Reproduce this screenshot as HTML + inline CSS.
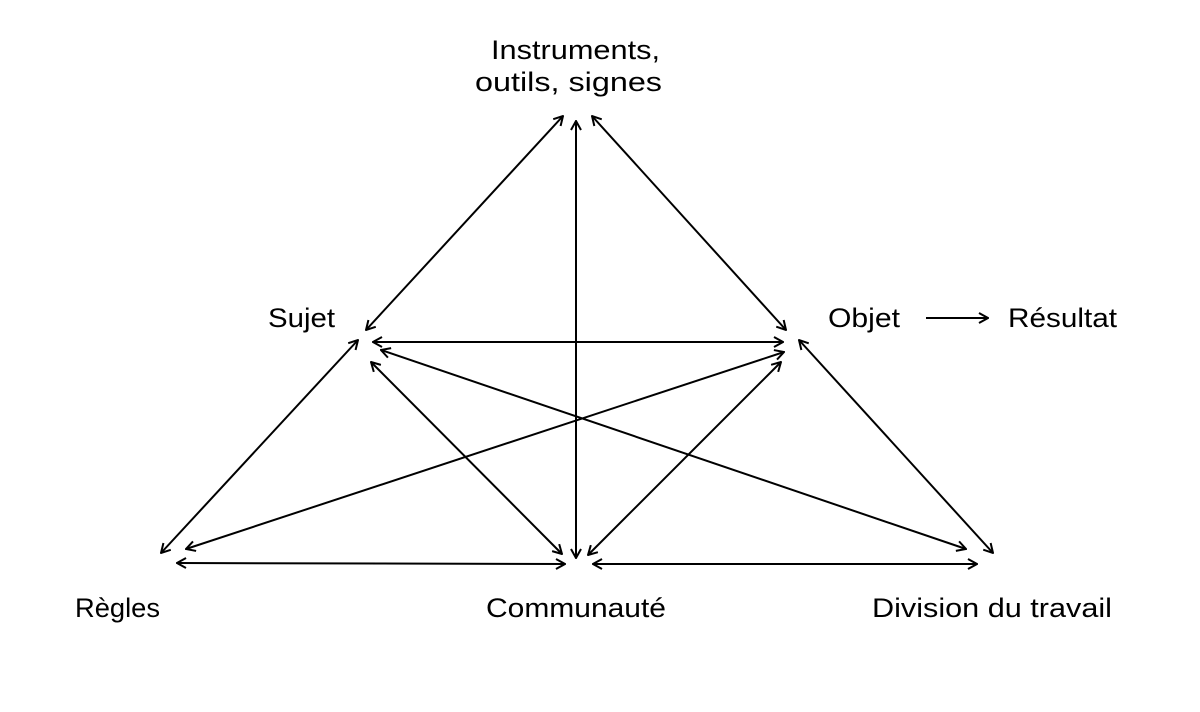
<!DOCTYPE html>
<html><head><meta charset="utf-8"><style>
html,body{margin:0;padding:0;background:#fff;}
svg{display:block;}
text{font-family:"Liberation Sans",sans-serif;font-size:27px;fill:#000;}
</style></head><body>
<svg width="1200" height="712" viewBox="0 0 1200 712" xmlns="http://www.w3.org/2000/svg">
<defs>
<marker id="a" viewBox="0 0 12 12" refX="11" refY="6" markerWidth="12" markerHeight="12" markerUnits="userSpaceOnUse" orient="auto-start-reverse">
<polyline points="2,1 11,6 2,11" fill="none" stroke="#000" stroke-width="2"/>
</marker>
</defs>
<g stroke="#000" stroke-width="2" fill="none" marker-start="url(#a)" marker-end="url(#a)">
<line x1="366" y1="330" x2="563" y2="116"/>
<line x1="576" y1="558" x2="576" y2="121"/>
<line x1="786" y1="330" x2="592" y2="116"/>
<line x1="373" y1="342" x2="783" y2="342"/>
<line x1="358" y1="340" x2="161" y2="553"/>
<line x1="371" y1="362" x2="562" y2="554"/>
<line x1="381" y1="350" x2="966" y2="549"/>
<line x1="784" y1="352" x2="186" y2="549"/>
<line x1="781" y1="362" x2="588" y2="555"/>
<line x1="799" y1="340" x2="993" y2="553"/>
<line x1="177" y1="563" x2="565" y2="564"/>
<line x1="593" y1="564" x2="977" y2="564"/>
</g>
<line x1="926" y1="318" x2="988" y2="318" stroke="#000" stroke-width="2" marker-end="url(#a)"/>
<text x="491" y="59" textLength="169" lengthAdjust="spacingAndGlyphs">Instruments,</text>
<text x="475" y="91" textLength="187" lengthAdjust="spacingAndGlyphs">outils, signes</text>
<text x="268" y="327" textLength="67" lengthAdjust="spacingAndGlyphs">Sujet</text>
<text x="828" y="327" textLength="72" lengthAdjust="spacingAndGlyphs">Objet</text>
<text x="1008" y="327" textLength="109" lengthAdjust="spacingAndGlyphs">Résultat</text>
<text x="75" y="617" textLength="85" lengthAdjust="spacingAndGlyphs">Règles</text>
<text x="486" y="617" textLength="180" lengthAdjust="spacingAndGlyphs">Communauté</text>
<text x="872" y="617" textLength="240" lengthAdjust="spacingAndGlyphs">Division du travail</text>
</svg>
</body></html>
